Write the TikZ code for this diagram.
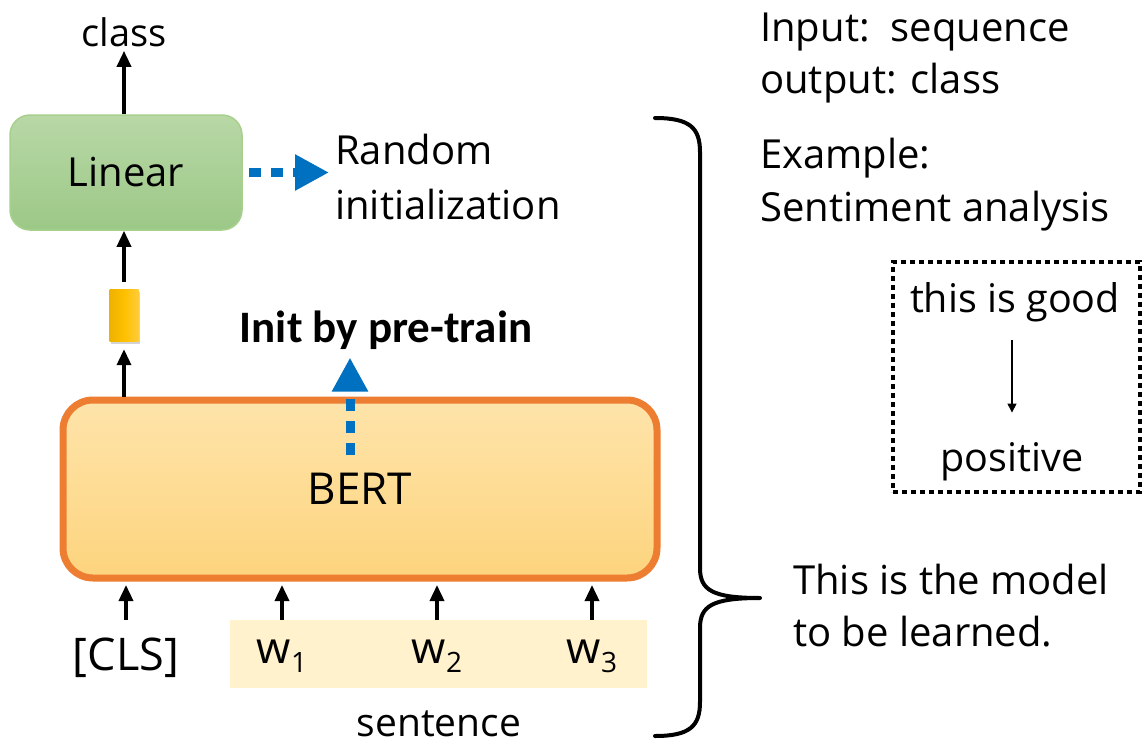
\documentclass[tikz,border=0pt]{standalone}
\usepackage{fontspec}
\setmainfont{Open Sans}
\newfontfamily\calfont{Carlito}
\usetikzlibrary{arrows.meta,shadows}

\definecolor{myblue}{HTML}{0070C0}
\definecolor{lingreentop}{HTML}{B8D8A6}
\definecolor{lingreenbot}{HTML}{9CC887}
\definecolor{lingreenline}{HTML}{A8D08D}
\definecolor{berttop}{HTML}{FEE4AA}
\definecolor{bertbot}{HTML}{FDD47E}
\definecolor{bertline}{HTML}{ED7D31}
\definecolor{bandfill}{HTML}{FFF2CC}
\definecolor{vecleft}{HTML}{EEB200}
\definecolor{vecmid}{HTML}{FFC000}
\definecolor{vecright}{HTML}{FFCB3A}

\newcommand\fsz[2]{\fontsize{#1}{#2}\selectfont}

\tikzset{
  arr/.style={-{Triangle[width=14pt,length=16pt]}, line width=3.5pt},
  bluearr/.style={draw=myblue, line width=9pt, dash pattern=on 12pt off 10pt,
    -{Triangle[width=34pt,length=34pt]}},
  txt/.style={inner sep=0pt}
}

\begin{document}
\begin{tikzpicture}[x=1pt,y=-1pt]
\path[use as bounding box] (0,0) rectangle (1144,744);

% model blocks
\node[txt,font=\fsz{38}{44}] (class) at (124,32) {class};
\node[draw=lingreenline, line width=1.5pt, rounded corners=20pt,
      top color=lingreentop, bottom color=lingreenbot,
      minimum width=232pt, minimum height=115pt, font=\fsz{40}{46}]
      (linear) at (126,172.5) {Linear};
\node[minimum width=29pt, minimum height=52pt, inner sep=0pt,
      left color=vecleft, right color=vecright, middle color=vecmid,
      drop shadow={opacity=0.35, shadow xshift=1pt, shadow yshift=-3pt}]
      (vec) at (124,315) {};
\node[draw=bertline, line width=7pt, rounded corners=30pt,
      top color=berttop, bottom color=bertbot,
      minimum width=594pt, minimum height=178pt, font=\fsz{44}{50}]
      (bert) at (360,489) {BERT};

% input tokens
\node[fill=bandfill, minimum width=417pt, minimum height=68pt, inner sep=0pt]
      (band) at (438.5,654) {};
\node[txt,font=\fsz{45}{50}] (cls) at (126,658) {[CLS]};
\node[txt,font=\fsz{44}{50}] (w1) at (282,656) {w\raisebox{-9pt}{\fsz{28}{32}1}};
\node[txt,font=\fsz{44}{50}] (w2) at (437,656) {w\raisebox{-9pt}{\fsz{28}{32}2}};
\node[txt,font=\fsz{44}{50}] (w3) at (592,656) {w\raisebox{-9pt}{\fsz{28}{32}3}};
\node[txt,font=\fsz{39}{45}] (sent) at (439,724) {sentence};

% annotations
\node[txt,anchor=west,align=left,font=\fsz{40}{55}] (rand) at (335,177)
      {Random\\initialization};
\node[txt,font=\calfont\bfseries\fsz{45}{50}] (init) at (386,330) {Init by pre-train};
\coordinate (bertsrc) at (350,455);

% arrows along the model
\draw[arr] (class |- linear.north) -- ([yshift=-4pt]class.south);
\draw[arr] ([yshift=7pt]vec.north) -- (vec |- linear.south);
\draw[arr] (vec |- bert.north) -- ([yshift=-8pt]vec.south);
\foreach \t in {cls,w1,w2,w3}
  \draw[arr] (\t |- band.north) -- ([yshift=-3.5pt]\t |- bert.south);

% initialisation arrows
\draw[bluearr] ([xshift=6pt]linear.east) -- ([xshift=-6pt]rand.west |- linear.east);
\draw[bluearr] (bertsrc) -- ([yshift=-8pt]bertsrc |- init.south);

% right column
\node[txt,anchor=west,align=left,font=\fsz{40}{52}] (io) at (760,58)
      {Input:\ \ sequence\\output: class};
\node[txt,anchor=west,align=left,font=\fsz{40}{53}] (example) at (760,185)
      {Example:\\Sentiment analysis};

\node[draw, line width=4pt, dash pattern=on 5pt off 4pt,
      minimum width=247pt, minimum height=230pt, inner sep=0pt] (ex) at (1016.5,377) {};
\node[txt,font=\fsz{39.5}{45}] (good) at (1015,302) {this is good};
\node[txt,font=\fsz{39.5}{45}] (pos) at (1012,462) {positive};
\draw[-{Triangle[width=9pt,length=9pt]}, line width=1.3pt]
      ([yshift=-18pt]good.south -| pos) -- ([yshift=30pt]pos.north);

% brace around the model
\coordinate (tip) at (760,598);
\draw[line width=4pt, line cap=round]
  (655,118) .. controls (690,118) and (700,128) .. (700,152)
  -- (700,568) .. controls (700,590) and (712,598) .. (tip)
  (tip) .. controls (712,598) and (700,606) .. (700,628)
  -- (700,702) .. controls (700,726) and (690,736) .. (655,736);

\node[txt,anchor=west,align=left,font=\fsz{40}{52}] (model) at (793,606)
      {This is the model\\to be learned.};
\end{tikzpicture}
\end{document}
